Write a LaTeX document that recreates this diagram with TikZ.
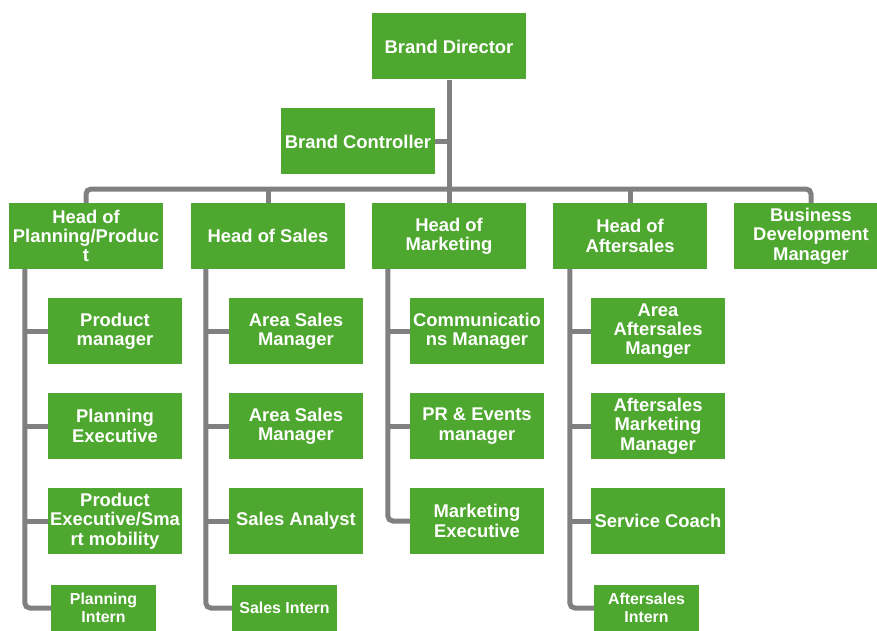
\documentclass[tikz,border=0pt]{standalone}
\usepackage{fontspec}
\setmainfont{Liberation Sans}
\usetikzlibrary{positioning}
\definecolor{boxgreen}{RGB}{78,167,46}
\definecolor{linegray}{RGB}{128,128,128}

\begin{document}
\begin{tikzpicture}[x=1pt,y=-1pt,
    box/.style={fill=boxgreen,text=white,align=center,inner sep=0pt,
      font=\bfseries\fontsize{18.4}{19.3}\selectfont,
      minimum width=154pt,minimum height=66pt},
    subbox/.style={box,minimum width=134pt},
    intern/.style={box,font=\bfseries\fontsize{15.9}{18}\selectfont,
      minimum width=105pt,minimum height=46pt},
    link/.style={draw=linegray,line width=5pt,rounded corners=5pt}]
    \useasboundingbox (0,0) rectangle (877,631);

    \node[box] (director) at (449,46.5) {Brand Director};
    \node[box] (controller) at (358,141.5) {Brand Controller};
    \node[box] (planhead) at (86,236) {Head of\\Planning/Produc\\t};
    \node[box] (saleshead) at (268,236) {Head of Sales};
    \node[box] (markhead) at (449,236) {Head of\\Marketing};
    \node[box] (afterhead) at (630,236) {Head of\\Aftersales};
    \node[box] (bizdev) at (811,236) {Business\\Development\\Manager};

    \node[subbox] (prodmgr) at (115,331) {Product\\manager};
    \node[subbox] (planexec) at (115,426) {Planning\\Executive};
    \node[subbox] (prodexec) at (115,521) {Product\\Executive/Sma\\rt mobility};
    \node[intern] (planintern) at (103.5,608) {Planning\\Intern};

    \node[subbox] (areasales1) at (296,331) {Area Sales\\Manager};
    \node[subbox] (areasales2) at (296,426) {Area Sales\\Manager};
    \node[subbox] (analyst) at (296,521) {Sales Analyst};
    \node[intern] (salesintern) at (284.5,608) {Sales Intern};

    \node[subbox] (commmgr) at (477,331) {Communicatio\\ns Manager};
    \node[subbox] (prmgr) at (477,426) {PR \& Events\\manager};
    \node[subbox] (markexec) at (477,521) {Marketing\\Executive};

    \node[subbox] (areaafter) at (658,331) {Area\\Aftersales\\Manger};
    \node[subbox] (aftermark) at (658,426) {Aftersales\\Marketing\\Manager};
    \node[subbox] (coach) at (658,521) {Service Coach};
    \node[intern] (afterintern) at (646.5,608) {Aftersales\\Intern};

    \coordinate (bus) at (449,189);
    \draw[link] (director.south) -- (markhead.north);
    \draw[link] (controller.east) -- (controller.east -| director.south);
    \draw[link] (planhead.north) |- (bus) -| (bizdev.north);
    \foreach \h in {saleshead,afterhead}
        \draw[link] (\h.north) -- (\h.north |- bus);

    \coordinate (planspine) at ([xshift=16pt]planhead.south west);
    \coordinate (salesspine) at ([xshift=15pt]saleshead.south west);
    \coordinate (markspine) at ([xshift=16pt]markhead.south west);
    \coordinate (afterspine) at ([xshift=17pt]afterhead.south west);

    \draw[link] (planspine) |- (planintern.west);
    \draw[link] (salesspine) |- (salesintern.west);
    \draw[link] (markspine) |- (markexec.west);
    \draw[link] (afterspine) |- (afterintern.west);
    \foreach \c in {prodmgr,planexec,prodexec}
        \draw[link] (planspine |- \c.west) -- (\c.west);
    \foreach \c in {areasales1,areasales2,analyst}
        \draw[link] (salesspine |- \c.west) -- (\c.west);
    \foreach \c in {commmgr,prmgr}
        \draw[link] (markspine |- \c.west) -- (\c.west);
    \foreach \c in {areaafter,aftermark,coach}
        \draw[link] (afterspine |- \c.west) -- (\c.west);
\end{tikzpicture}
\end{document}
